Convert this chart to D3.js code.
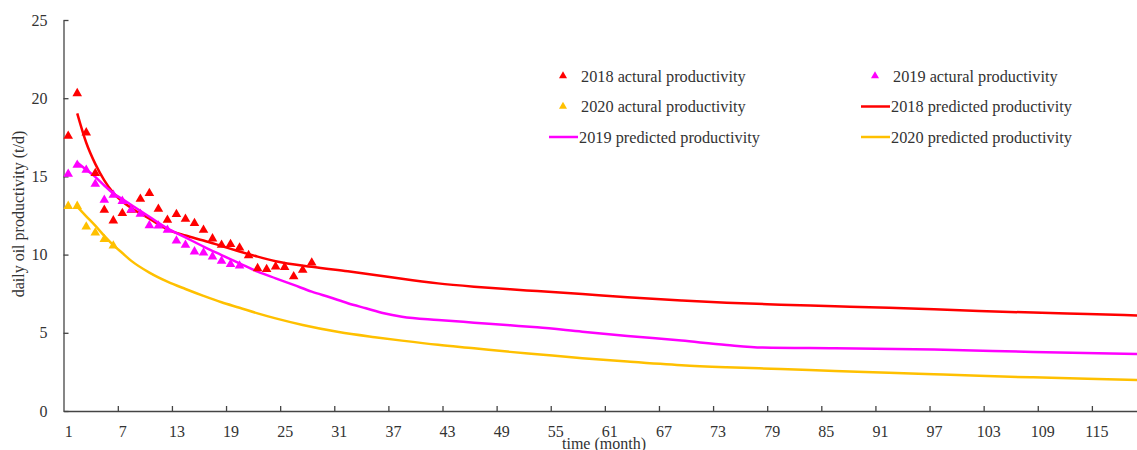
<!DOCTYPE html>
<html>
<head>
<meta charset="utf-8">
<script src="https://cdn.jsdelivr.net/npm/d3@7"></script>
<style>
  body { margin: 0; background: #fff; }
  svg { display: block; font-family: "Liberation Serif", "Times New Roman", serif; }
</style>
</head>
<body>
<svg id="chart" width="1137" height="450"></svg>
<script>
// actual productivity, one value per month starting at month 1
var actual2018 = [17.58, 20.31, 17.8, 15.2, 12.85, 12.17, 12.64, 12.85, 13.55, 13.92, 12.92, 12.21, 12.58, 12.28,
                  12.0, 11.57, 11.02, 10.61, 10.66, 10.44, 9.95, 9.12, 9.06, 9.23, 9.2, 8.6, 9.02, 9.48]
var actual2019 = [15.15, 15.73, 15.41, 14.51, 13.49, 13.81, 13.42, 12.87, 12.6, 11.87, 11.84, 11.57, 10.89, 10.61,
                  10.19, 10.12, 9.87, 9.59, 9.38, 9.29]
var actual2020 = [13.1, 13.1, 11.78, 11.4, 10.98, 10.56]

// predicted productivity, read at these months
var predMonths2018 = [2, 3, 4, 5, 6, 7, 8, 10, 12, 14, 16, 18, 20, 22, 24, 28, 32, 35, 38, 42, 46, 50, 53, 58, 63, 69, 74, 80, 86, 92, 97, 102, 108, 114, 120]
var pred2018 = [19.03, 17.15, 15.8, 14.75, 13.95, 13.4, 12.98, 12.3, 11.62, 11.22, 10.9, 10.55, 10.2, 9.87, 9.58, 9.22, 8.93, 8.7, 8.45, 8.16,
                7.95, 7.78, 7.67, 7.48, 7.28, 7.07, 6.92, 6.8, 6.7, 6.6, 6.5, 6.4, 6.29, 6.2, 6.1]
var predMonths2019 = [2, 3, 4, 5, 6, 7, 8, 10, 12, 14, 16, 18, 20, 22, 24, 26, 28, 30, 32, 34, 36, 38, 42, 46, 50, 53, 58, 63, 69, 74, 78, 86, 97, 108, 120]
var pred2019 = [15.88, 15.42, 14.97, 14.42, 13.92, 13.55, 13.17, 12.42, 11.68, 11.1, 10.51, 9.97, 9.44, 8.91, 8.48, 8.06, 7.63, 7.27, 6.89, 6.57,
                6.25, 6.03, 5.82, 5.65, 5.48, 5.35, 5.07, 4.8, 4.5, 4.22, 4.06, 4.01, 3.93, 3.78, 3.64]
var predMonths2020 = [2, 3, 4, 5, 6, 7, 8, 10, 12, 14, 16, 18, 20, 22, 24, 27, 31, 35, 38, 42, 46, 50, 53, 58, 63, 69, 74, 80, 86, 92, 97, 102, 108, 114, 120]
var pred2020 = [13.06, 12.45, 11.85, 11.2, 10.61, 10.1, 9.6, 8.85, 8.27, 7.8, 7.36, 6.95, 6.6, 6.24, 5.92, 5.5, 5.05, 4.72, 4.5, 4.23,
                4.01, 3.78, 3.63, 3.38, 3.16, 2.93, 2.8, 2.68, 2.56, 2.45, 2.35, 2.25, 2.15, 2.06, 1.98]

var monthLabels = [1, 7, 13, 19, 25, 31, 37, 43, 49, 55, 61, 67, 73, 79, 85, 91, 97, 103, 109, 115]
var yTicks = [0, 5, 10, 15, 20, 25]

var red = "#ff0000", magenta = "#ff00ff", gold = "#ffc000"
var serif = "Liberation Serif, Times New Roman, serif"

const svg = d3.select("#chart")

// month m sits in the middle of its slot, slots are 9 px wide
const x = d3.scaleLinear().domain([0.5, 120.5]).range([63.7, 1146])
const y = d3.scaleLinear().domain([0, 25]).range([411, 20])

// y axis, ticks pointing inward
svg.append("g")
  .attr("transform", "translate(63.5,0)")
  .call(d3.axisLeft(y).tickValues(yTicks).tickSizeInner(-5).tickSizeOuter(0).tickPadding(16))
  .call(g => g.selectAll("text").attr("font-size", 16).attr("fill", "#333").attr("font-family", serif))
  .call(g => g.selectAll("path, line").attr("stroke", "#444").attr("stroke-width", 1.3))

// x axis: ticks on slot boundaries, labels in slot middles
svg.append("g")
  .attr("transform", "translate(0,411)")
  .call(d3.axisBottom(x).tickValues(monthLabels.slice(1).map(d => d - 0.5)).tickSizeInner(-5).tickSizeOuter(0).tickFormat(""))
  .call(g => g.selectAll("path, line").attr("stroke", "#444").attr("stroke-width", 1.3))

svg.append("g")
  .attr("transform", "translate(0,411)")
  .call(d3.axisBottom(x).tickValues(monthLabels).tickSize(0).tickPadding(15))
  .call(g => g.select(".domain").remove())
  .call(g => g.selectAll("text").attr("font-size", 16).attr("fill", "#333").attr("font-family", serif))

svg.append("text")
  .attr("x", 604).attr("y", 448.5)
  .attr("text-anchor", "middle")
  .attr("font-size", 16).attr("fill", "#333")
  .text("time (month)")

svg.append("text")
  .attr("transform", "translate(24,214) rotate(-90)")
  .attr("text-anchor", "middle")
  .attr("font-size", 16).attr("fill", "#333")
  .text("daily oil productivity (t/d)")

// predicted lines
const line = d3.line().curve(d3.curveMonotoneX).x(d => x(d[0])).y(d => y(d[1]))
function drawLine(months, vals, color) {
  svg.append("path")
    .datum(months.map((m, i) => [m, vals[i]]))
    .attr("d", line)
    .attr("fill", "none")
    .attr("stroke", color)
    .attr("stroke-width", 2.5)
    .attr("stroke-linejoin", "round")
}
drawLine(predMonths2018, pred2018, red)
drawLine(predMonths2019, pred2019, magenta)
drawLine(predMonths2020, pred2020, gold)

// actual points as triangles
const tri = d3.symbol().type(d3.symbolTriangle).size(40)
function drawPoints(vals, color) {
  svg.append("g").selectAll("path")
    .data(vals)
    .join("path")
    .attr("d", tri)
    .attr("transform", (d, i) => `translate(${x(i + 1)},${y(d)})`)
    .attr("fill", color)
}
drawPoints(actual2018, red)
drawPoints(actual2019, magenta)
drawPoints(actual2020, gold)

// legend
const legend = [
  {label: "2018 actural productivity", color: red, kind: "point", x: 563, y: 76},
  {label: "2019 actural productivity", color: magenta, kind: "point", x: 875, y: 76},
  {label: "2020 actural productivity", color: gold, kind: "point", x: 563, y: 106.5},
  {label: "2018 predicted productivity", color: red, kind: "line", x: 875, y: 106.5},
  {label: "2019 predicted productivity", color: magenta, kind: "line", x: 563, y: 137},
  {label: "2020 predicted productivity", color: gold, kind: "line", x: 875, y: 137}
]
const lg = svg.append("g").selectAll("g").data(legend).join("g")
  .attr("transform", d => `translate(${d.x},${d.y})`)
lg.filter(d => d.kind == "point").append("path")
  .attr("d", d3.symbol().type(d3.symbolTriangle).size(28))
  .attr("fill", d => d.color)
lg.filter(d => d.kind == "line").append("line")
  .attr("x1", -14).attr("x2", 15)
  .attr("stroke", d => d.color).attr("stroke-width", 2.5)
lg.append("text")
  .attr("x", d => d.kind == "point" ? 18 : 16)
  .attr("dy", "0.35em")
  .attr("font-size", 16.3).attr("fill", "#333")
  .text(d => d.label)
</script>
</body>
</html>
